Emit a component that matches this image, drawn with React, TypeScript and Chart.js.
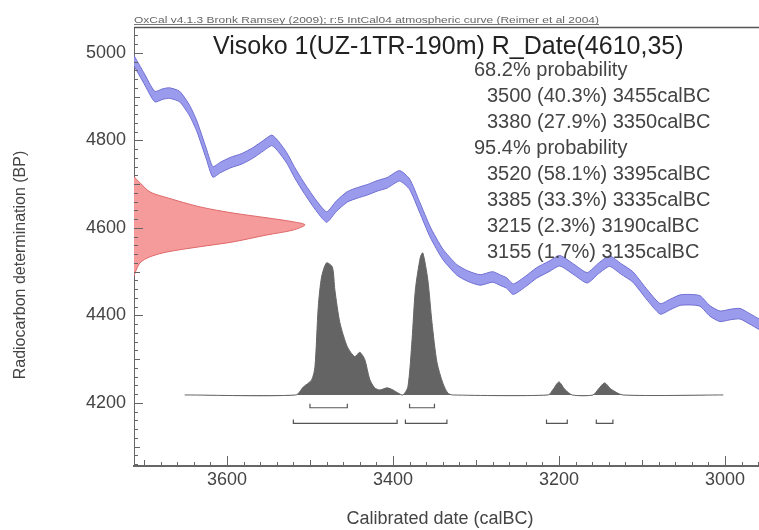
import React, { useEffect, useRef } from 'react';
import { Chart, registerables } from 'chart.js';

Chart.register(...registerables);

// Calibration curve (IntCal04) – calendar year BC vs radiocarbon age BP
const curveYears = [3712, 3700, 3687, 3677, 3669, 3657, 3645, 3636, 3625, 3617, 3608, 3596, 3582, 3569, 3556, 3546, 3538, 3528, 3518, 3508, 3494, 3480, 3468, 3455, 3443, 3431, 3419, 3407, 3392, 3380, 3368, 3355, 3340, 3323, 3310, 3295, 3280, 3270, 3263, 3255, 3240, 3227, 3212, 3199, 3182, 3166, 3152, 3139, 3125, 3111, 3095, 3078, 3066, 3054, 3042, 3030, 3018, 3006, 2994, 2982, 2970, 2959];
const curveBP = [4982, 4942, 4900, 4906, 4908, 4900, 4868, 4831, 4770, 4728, 4738, 4749, 4758, 4771, 4788, 4800, 4786, 4760, 4725, 4694, 4655, 4625, 4650, 4671, 4680, 4687, 4696, 4703, 4719, 4700, 4648, 4590, 4540, 4504, 4490, 4481, 4488, 4480, 4474, 4460, 4478, 4497, 4512, 4525, 4505, 4486, 4508, 4524, 4506, 4488, 4450, 4415, 4425, 4435, 4436, 4433, 4410, 4398, 4402, 4404, 4392, 4380];
const curveSigma = 12;

// Radiocarbon date R_Date(4610,35): likelihood shape (relative density vs BP)
const dateBP = [4717, 4703, 4682, 4669, 4648, 4634, 4623, 4614, 4607, 4595, 4584, 4568, 4557, 4545, 4534, 4520, 4497, 4490];
const dateDensity = [0, 0.035, 0.094, 0.193, 0.386, 0.579, 0.778, 0.93, 1.0, 0.93, 0.778, 0.579, 0.386, 0.193, 0.094, 0.035, 0.006, 0];

// Calibrated probability distribution (relative) vs calendar year BC
const postYears = [3651, 3517, 3508, 3498, 3494, 3490, 3486, 3480, 3473, 3470, 3464, 3455, 3446, 3440, 3434, 3428, 3422, 3416, 3407, 3400, 3394, 3388, 3382, 3377, 3373, 3367, 3364, 3358, 3353, 3347, 3340, 3334, 3328, 3213, 3207, 3200, 3193, 3184, 3159, 3152, 3145, 3137, 3123, 3002];
const postProb = [0, 0, 0.056, 0.106, 0.197, 0.62, 0.83, 0.93, 0.9, 0.74, 0.51, 0.34, 0.27, 0.3, 0.25, 0.11, 0.05, 0.035, 0.05, 0.035, 0.014, 0, 0.056, 0.39, 0.74, 0.97, 1.0, 0.81, 0.51, 0.23, 0.085, 0.014, 0, 0, 0.04, 0.092, 0.04, 0, 0, 0.045, 0.085, 0.04, 0, 0];

// Ranges
const range68From = [3500, 3380];
const range68To = [3455, 3350];
const range68Pct = ['40.3', '27.9'];
const range95From = [3520, 3385, 3215, 3155];
const range95To = [3395, 3335, 3190, 3135];
const range95Pct = ['58.1', '33.3', '2.3', '1.7'];

// Axis ticks
const xTickValues = [3600, 3400, 3200, 3000];
const yTickValues = [4200, 4400, 4600, 4800, 5000];

const titleText = 'Visoko 1(UZ-1TR-190m) R_Date(4610,35)';
const headerText = 'OxCal v4.1.3 Bronk Ramsey (2009); r:5 IntCal04 atmospheric curve (Reimer et al 2004)';
const xTitle = 'Calibrated date (calBC)';
const yTitle = 'Radiocarbon determination (BP)';

const FONT = '"Liberation Sans", Arial, sans-serif';

function bracketPoints(from: number[], to: number[], level: number, tick: number) {
  const pts: any[] = [];
  from.forEach((f, i) => {
    pts.push({ x: f, y: level + tick }, { x: f, y: level }, { x: to[i], y: level }, { x: to[i], y: level + tick }, { x: to[i], y: NaN });
  });
  return pts;
}

const decorPlugin = {
  id: 'decor',
  afterDatasetsDraw(chart: any) {
    const { ctx, chartArea: a, scales } = chart;
    const xs = scales.x;
    const ys = scales.y;
    ctx.save();
    ctx.strokeStyle = '#666';
    ctx.lineWidth = 1;
    ctx.beginPath();
    for (let v = 2960; v <= 3700; v += 20) {
      const px = Math.round(xs.getPixelForValue(v)) + 0.5;
      const len = v % 200 === 0 ? 10 : v % 100 === 0 ? 6 : 4;
      ctx.moveTo(px, a.bottom);
      ctx.lineTo(px, a.bottom - len);
    }
    for (let v = 4060; v <= 5050; v += 20) {
      const py = Math.round(ys.getPixelForValue(v)) + 0.5;
      const len = v % 200 === 0 ? 9 : v % 100 === 0 ? 6 : 4;
      ctx.moveTo(a.left, py);
      ctx.lineTo(a.left + len, py);
    }
    ctx.stroke();

    // top frame line
    ctx.strokeStyle = '#555';
    ctx.lineWidth = 1.6;
    ctx.beginPath();
    ctx.moveTo(a.left, a.top + 0.5);
    ctx.lineTo(a.right, a.top + 0.5);
    ctx.stroke();

    // header (small, stretched to the reference width)
    ctx.fillStyle = '#666';
    ctx.font = `9px ${FONT}`;
    ctx.textBaseline = 'alphabetic';
    ctx.textAlign = 'left';
    const hw = ctx.measureText(headerText).width;
    const sx = 465 / hw;
    ctx.save();
    ctx.translate(a.left, a.top - 4);
    ctx.scale(sx, 1);
    ctx.fillText(headerText, 0, 0);
    ctx.restore();
    ctx.strokeStyle = '#777';
    ctx.lineWidth = 1;
    ctx.beginPath();
    ctx.moveTo(a.left, a.top - 2.5);
    ctx.lineTo(a.left + 465, a.top - 2.5);
    ctx.stroke();

    // title
    ctx.fillStyle = '#222';
    ctx.font = `25px ${FONT}`;
    ctx.textBaseline = 'middle';
    ctx.fillText(titleText, 213, 47);

    // probability text
    ctx.fillStyle = '#444';
    ctx.font = `20px ${FONT}`;
    let yy = 70;
    const step = 26;
    ctx.fillText('68.2% probability', 474, yy);
    range68From.forEach((f, i) => {
      yy += step;
      ctx.fillText(`${f} (${range68Pct[i]}%) ${range68To[i]}calBC`, 487, yy);
    });
    yy += step;
    ctx.fillText('95.4% probability', 474, yy);
    range95From.forEach((f, i) => {
      yy += step;
      ctx.fillText(`${f} (${range95Pct[i]}%) ${range95To[i]}calBC`, 487, yy);
    });

    // axis titles
    ctx.fillStyle = '#444';
    ctx.font = `16px ${FONT}`;
    ctx.textAlign = 'center';
    ctx.save();
    ctx.translate(21, 265);
    ctx.rotate(-Math.PI / 2);
    ctx.fillText(yTitle, 0, 0);
    ctx.restore();
    ctx.font = `18px ${FONT}`;
    ctx.fillText(xTitle, 440, 519);
    ctx.restore();
  },
};

export default function App() {
  const ref = useRef<HTMLCanvasElement | null>(null);
  useEffect(() => {
    if (!ref.current) return;
    const blueEdge = 'rgba(110,110,210,1)';
    const blueFill = 'rgba(150,150,236,0.95)';
    const chart = new Chart(ref.current, {
      type: 'scatter',
      data: {
        datasets: [
          {
            label: 'curveUpper',
            data: curveYears.map((x, i) => ({ x, y: curveBP[i] + curveSigma })),
            showLine: true,
            pointRadius: 0,
            borderColor: blueEdge,
            borderWidth: 1,
            tension: 0.2,
            fill: false,
          },
          {
            label: 'curveLower',
            data: curveYears.map((x, i) => ({ x, y: curveBP[i] - curveSigma })),
            showLine: true,
            pointRadius: 0,
            borderColor: blueEdge,
            borderWidth: 1,
            tension: 0.2,
            backgroundColor: blueFill,
            fill: '-1',
          },
          {
            label: 'date',
            xAxisID: 'xp',
            data: dateBP.map((y, i) => ({ x: dateDensity[i], y })),
            showLine: true,
            pointRadius: 0,
            borderColor: 'rgba(222,105,105,1)',
            borderWidth: 1,
            backgroundColor: 'rgba(246,155,155,1)',
            tension: 0.3,
            fill: 'shape',
          },
          {
            label: 'posterior',
            yAxisID: 'yp',
            data: postYears.map((x, i) => ({ x, y: postProb[i] })),
            showLine: true,
            pointRadius: 0,
            borderColor: 'rgba(100,100,100,1)',
            borderWidth: 1,
            backgroundColor: 'rgba(100,100,100,1)',
            tension: 0.25,
            fill: 'origin',
          },
          {
            label: 'r68',
            yAxisID: 'yp',
            data: bracketPoints(range68From, range68To, -0.09, 0.028),
            showLine: true,
            spanGaps: false,
            pointRadius: 0,
            borderColor: '#555',
            borderWidth: 1.2,
            fill: false,
          },
          {
            label: 'r95',
            yAxisID: 'yp',
            data: bracketPoints(range95From, range95To, -0.2, 0.028),
            showLine: true,
            spanGaps: false,
            pointRadius: 0,
            borderColor: '#555',
            borderWidth: 1.2,
            fill: false,
          },
        ],
      },
      options: {
        responsive: false,
        animation: false,
        layout: { padding: { top: 27, right: 0, left: 0, bottom: 0 } },
        plugins: { legend: { display: false }, tooltip: { enabled: false }, title: { display: false } },
        scales: {
          x: {
            type: 'linear',
            reverse: true,
            min: 2959,
            max: 3712,
            position: 'bottom',
            grid: { display: false, drawTicks: false },
            border: { display: true, color: '#666', width: 2 },
            afterBuildTicks: (s: any) => { s.ticks = xTickValues.map((v) => ({ value: v })); },
            afterFit: (s: any) => { s.height = 64; },
            ticks: { color: '#444', font: { family: FONT, size: 18 }, padding: 3, callback: (v: any) => String(v) },
            title: { display: false },
          },
          y: {
            type: 'linear',
            min: 4056,
            max: 5059,
            position: 'left',
            grid: { display: false, drawTicks: false },
            border: { display: true, color: '#666', width: 1 },
            afterBuildTicks: (s: any) => { s.ticks = yTickValues.map((v) => ({ value: v })); },
            afterFit: (s: any) => { s.width = 134; },
            ticks: { color: '#444', font: { family: FONT, size: 18 }, padding: 8, callback: (v: any) => String(v) },
            title: { display: false },
          },
          xp: { type: 'linear', display: false, min: 0, max: 3.655 },
          yp: { type: 'linear', display: false, min: -0.5, max: 2.59 },
        },
      },
      plugins: [decorPlugin],
    } as any);
    return () => chart.destroy();
  }, []);
  return (
    <div style={{ position: 'fixed', left: 0, top: 0, width: 759, height: 530, background: '#fff' }}>
      <canvas ref={ref} width={759} height={530} style={{ display: 'block' }} />
    </div>
  );
}
